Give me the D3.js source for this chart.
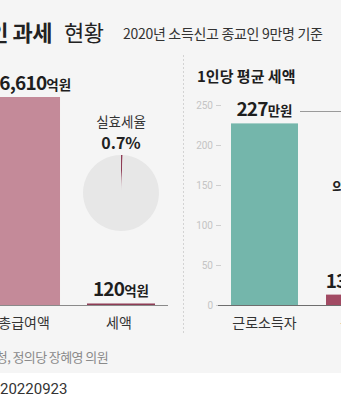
<!DOCTYPE html>
<html>
<head>
<meta charset="utf-8">
<script src="https://cdn.jsdelivr.net/npm/d3@7"></script>
<style>
  html, body { margin: 0; padding: 0; background: #ffffff; }
  svg { display: block; font-family: "Noto Sans CJK KR", "Noto Sans", sans-serif; }
</style>
</head>
<body>
<svg id="chart" width="341" height="400"></svg>
<script>
// 종교인 과세 현황 (2020년 소득신고 기준)
const totalCats = ["총급여액", "세액"];
const totalValues = [16610, 120];          // 억원
const totalLabels = ["16,610", "120"];
const totalUnit = "억원";

const rateParts = [0.7, 99.3];             // 실효세율 %
const rateLabel = "0.7%";

const avgCats = ["근로소득자", "종교인"];
const avgValues = [227, 13];               // 만원
const avgUnit = "만원";
const avgTicks = [0, 50, 100, 150, 200, 250];

const W = 341, H = 400;
const svg = d3.select("#chart");

// panel background
svg.append("rect").attr("x", 0).attr("y", 0).attr("width", W).attr("height", 373).attr("fill", "#f5f5f5");

// title
svg.append("text").attr("x", 52).attr("y", 41).attr("text-anchor", "end")
  .attr("font-size", 22).attr("font-weight", 700).attr("fill", "#222").attr("letter-spacing", -0.5)
  .text("종교인 과세");
svg.append("text").attr("x", 64).attr("y", 41).attr("font-size", 22).attr("font-weight", 400)
  .attr("fill", "#222").attr("letter-spacing", -0.5).text("현황");
svg.append("text").attr("x", 123).attr("y", 39).attr("font-size", 14).attr("fill", "#333")
  .attr("letter-spacing", -0.3).text("2020년 소득신고 종교인 9만명 기준");

// ---- left panel: total income vs tax ----
const base = 305;
const xL = d3.scaleBand().domain(totalCats).range([-8, 155]).paddingInner(0.284).paddingOuter(0);
const yL = d3.scaleLinear().domain([0, totalValues[0]]).range([base, 97]);
const leftColors = ["#c48a99", "#8e3c55"];
const leftLabelShift = [4, 0];

svg.append("g").selectAll("rect").data(totalValues).join("rect")
  .attr("x", (d, i) => xL(totalCats[i]))
  .attr("width", xL.bandwidth())
  .attr("y", d => yL(d))
  .attr("height", d => Math.max(base - yL(d), 0))
  .attr("fill", (d, i) => leftColors[i]);

svg.append("line").attr("x1", 0).attr("x2", 168).attr("y1", base + 0.5).attr("y2", base + 0.5)
  .attr("stroke", "#8a8a8a").attr("stroke-width", 1);

const valL = svg.append("g").selectAll("text").data(totalValues).join("text")
  .attr("x", (d, i) => xL(totalCats[i]) + xL.bandwidth() / 2 + leftLabelShift[i])
  .attr("y", d => Math.min(yL(d), base - 2) - 7)
  .attr("text-anchor", "middle").attr("fill", "#1e1e1e").attr("font-weight", 700);
valL.append("tspan").attr("font-size", 19).attr("letter-spacing", -0.8).text((d, i) => totalLabels[i]);
valL.append("tspan").attr("font-size", 13.5).text(totalUnit);

svg.append("g").selectAll("text").data(totalCats).join("text")
  .attr("x", d => xL(d) + xL.bandwidth() / 2 - 2)
  .attr("y", 328).attr("text-anchor", "middle").attr("font-size", 14).attr("fill", "#333")
  .text(d => d);

// effective tax rate pie
const pieCx = 121, pieCy = 193, pieR = 38;
svg.append("text").attr("x", pieCx).attr("y", 127).attr("text-anchor", "middle")
  .attr("font-size", 13.5).attr("fill", "#333").text("실효세율");
svg.append("text").attr("x", pieCx).attr("y", 149).attr("text-anchor", "middle")
  .attr("font-size", 16).attr("font-weight", 700).attr("fill", "#222").text(rateLabel);
const pie = d3.pie().sort(null)(rateParts);
const arc = d3.arc().innerRadius(0).outerRadius(pieR);
svg.append("g").attr("transform", `translate(${pieCx},${pieCy})`)
  .selectAll("path").data(pie).join("path")
  .attr("d", arc)
  .attr("fill", (d, i) => i === 0 ? "#8e3c55" : "#e7e7e7");

// divider
svg.append("line").attr("x1", 183.5).attr("x2", 183.5).attr("y1", 55).attr("y2", 335)
  .attr("stroke", "#d3d3d3").attr("stroke-dasharray", "2,2");

// ---- right panel: average tax per person ----
svg.append("text").attr("x", 197).attr("y", 82).attr("font-size", 15).attr("font-weight", 700)
  .attr("fill", "#1e1e1e").text("1인당 평균 세액");

const xR = d3.scaleBand().domain(avgCats).range([231, 393]).paddingInner(0.295).paddingOuter(0);
const yR = d3.scaleLinear().domain([0, 250]).range([base, 105]);
const rightColors = ["#74b6ab", "#a14a63"];
const rightLabelShift = [0, -11];

const axis = d3.axisLeft(yR).tickValues(avgTicks).tickSize(5).tickPadding(3);
const gAxis = svg.append("g").attr("transform", "translate(221,0)").call(axis);
gAxis.select(".domain").remove();
gAxis.selectAll(".tick line").attr("stroke", "#cfcfcf");
gAxis.selectAll(".tick text").attr("fill", "#c4c4c4").attr("font-size", 10)
  .attr("font-family", "Roboto, 'Noto Sans', sans-serif");

svg.append("g").selectAll("rect").data(avgValues).join("rect")
  .attr("x", (d, i) => xR(avgCats[i]))
  .attr("width", xR.bandwidth())
  .attr("y", d => yR(d))
  .attr("height", d => base - yR(d))
  .attr("fill", (d, i) => rightColors[i]);

svg.append("line").attr("x1", 218).attr("x2", W).attr("y1", base + 0.5).attr("y2", base + 0.5)
  .attr("stroke", "#6e6e6e").attr("stroke-width", 1);

const valR = svg.append("g").selectAll("text").data(avgValues).join("text")
  .attr("x", (d, i) => xR(avgCats[i]) + xR.bandwidth() / 2 + rightLabelShift[i])
  .attr("y", d => yR(d) - 7)
  .attr("text-anchor", "middle").attr("fill", "#1e1e1e").attr("font-weight", 700);
valR.append("tspan").attr("font-size", 19).attr("letter-spacing", -0.8).text(d => d);
valR.append("tspan").attr("font-size", 13.5).text(avgUnit);

// leader line to the comparison note
svg.append("line").attr("x1", 300).attr("x2", W).attr("y1", 111.5).attr("y2", 111.5)
  .attr("stroke", "#9a9a9a").attr("stroke-width", 1);
svg.append("text").attr("x", 332).attr("y", 192).attr("font-size", 14).attr("font-weight", 700)
  .attr("fill", "#222").text("의");

svg.append("g").selectAll("text").data(avgCats).join("text")
  .attr("x", d => xR(d) + xR.bandwidth() / 2)
  .attr("y", 328).attr("text-anchor", "middle").attr("font-size", 14).attr("fill", "#333")
  .text(d => d);

// source and credit
svg.append("text").attr("x", 108).attr("y", 362).attr("text-anchor", "end")
  .attr("font-size", 13).attr("fill", "#8a8a8a").attr("letter-spacing", -0.6)
  .text("자료 : 국세청, 정의당 장혜영 의원");
svg.append("text").attr("x", 0).attr("y", 394).attr("font-size", 15).attr("fill", "#333")
  .attr("font-family", "Roboto, 'Noto Sans', sans-serif").text("20220923");
</script>
</body>
</html>
